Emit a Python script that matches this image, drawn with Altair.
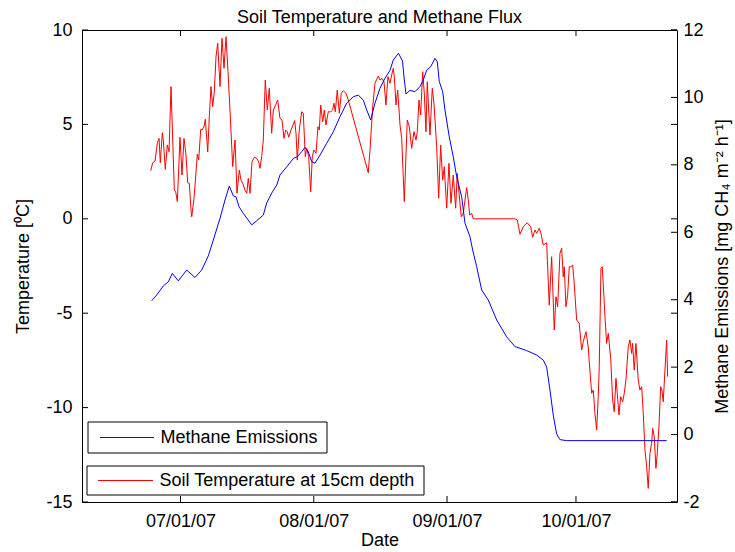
import altair as alt
import pandas as pd

# ---- data (days since 2007-07-01) ----
temp_day = [-6.93,-6.47,-5.93,-5.40,-5.00,-4.70,-4.23,-4.00,-3.54,-3.07,
            -2.67,-2.21,-1.44,-1.12,-0.74,-0.12,0.35,0.81,1.28,1.67,
            2.05,2.44,2.61,3.14,3.44,3.91,4.23,4.70,5.00,5.47,
            5.77,6.33,6.70,7.09,7.49,7.86,8.26,8.65,9.19,9.65,
            10.12,10.58,11.05,11.51,12.14,12.68,13.14,13.68,14.07,14.47,
            15.00,15.40,15.77,16.17,16.63,17.17,17.72,18.19,18.49,18.89,
            19.26,19.72,20.19,20.65,21.21,21.59,22.61,23.14,23.61,24.07,
            24.47,24.84,25.17,25.70,26.56,26.87,27.17,27.63,28.19,28.56,
            29.03,29.35,29.82,30.28,30.66,31.05,31.52,31.98,32.29,32.61,
            33.08,33.45,33.84,34.38,34.94,35.40,35.70,36.01,36.47,36.94,
            37.40,37.87,38.50,39.03,43.68,44.08,44.71,45.24,46.01,46.40,
            46.87,47.33,47.80,48.26,48.73,49.13,49.50,49.73,50.13,50.52,50.89,
            51.06,51.45,52.06,52.75,53.22,53.78,54.31,54.78,55.08,
            55.48,55.87,56.34,56.71,57.10,57.41,58.03,58.57,58.96,59.59,
            60.06,60.52,60.99,61.36,61.92,62.45,62.92,63.45,64.01,64.38,
            64.94,65.31,65.78,66.18,66.57,66.94,67.27,67.73,68.11,77.80,
            78.34,78.97,79.74,80.67,81.46,81.92,82.46,82.85,83.46,83.85,
            84.39,85.18,85.78,86.34,86.95,87.34,87.74,88.27,88.67,89.04,
            89.27,89.67,90.06,90.44,90.83,91.23,91.53,92.16,92.76,93.32,
            93.69,94.32,94.85,95.09,95.65,96.02,96.41,96.81,97.18,97.41,
            97.81,98.11,98.51,98.74,99.13,99.51,100.07,100.53,100.90,101.30,
            101.60,102.00,102.39,102.86,103.23,103.62,104.16,104.56,104.95,105.18,
            105.55,105.95,106.48,106.88,107.28,107.65,108.05,108.44,108.81,109.21,
            109.60,109.84,110.21,110.60,110.91,111.30,111.70,112.00,112.30,112.70,113.09,113.32]
temp_c = [2.55,2.97,3.06,4.00,4.26,2.97,4.56,4.17,2.62,3.91,
          3.55,7.00,1.52,1.43,0.91,4.32,2.32,4.26,3.38,1.91,
          1.88,0.47,0.11,1.09,1.96,3.43,3.11,4.74,4.70,4.88,
          5.27,3.55,5.41,7.00,5.94,6.73,8.59,9.30,7.00,9.56,
          7.97,9.65,7.79,5.76,2.76,4.17,1.35,2.58,2.05,1.88,
          1.52,1.35,2.14,1.35,3.02,3.26,3.20,3.02,2.67,3.29,
          4.17,7.35,5.76,6.91,4.53,5.76,6.29,5.32,5.23,4.26,
          4.70,4.61,4.32,4.70,5.20,4.53,3.11,4.70,5.67,5.59,
          3.29,3.73,3.29,1.43,3.29,3.64,3.47,4.88,4.70,6.03,
          5.14,5.76,4.97,5.67,5.67,5.76,6.12,5.67,6.82,5.59,
          6.65,6.78,6.65,6.29,2.44,3.64,5.94,7.18,7.56,7.35,
          7.44,7.26,6.03,7.53,7.18,7.62,7.97,7.53,6.03,6.82,5.59,
          4.97,4.26,0.91,5.23,4.88,3.73,4.61,4.17,4.61,
          6.29,5.50,7.79,6.65,4.61,7.26,4.44,6.91,6.12,3.82,
          1.09,3.91,2.05,2.76,0.56,2.94,0.82,2.32,0.56,2.41,
          1.00,0.11,0.29,1.00,1.65,1.00,0.20,0.29,0.0,0.0,
          -0.06,-0.82,-0.42,-0.21,-0.42,-0.98,-0.59,-0.77,-0.50,-0.77,
          -1.39,-1.27,-4.57,-2.01,-5.89,-4.13,-4.66,-1.83,-1.56,-3.07,
          -2.54,-4.66,-4.04,-2.54,-2.54,-2.45,-3.24,-5.36,-5.54,-6.95,
          -6.51,-5.98,-6.78,-7.57,-9.24,-9.07,-10.30,-11.19,-9.42,-7.84,
          -2.62,-2.54,-4.13,-5.19,-6.60,-6.07,-7.39,-9.60,-10.22,-8.45,
          -9.24,-10.39,-9.42,-9.69,-9.24,-8.54,-6.78,-6.42,-7.13,-6.60,
          -8.01,-6.60,-8.54,-9.07,-8.89,-10.30,-12.25,-13.13,-14.28,-12.42,
          -11.89,-11.10,-11.54,-13.22,-12.42,-11.01,-8.89,-9.07,-9.69,-8.01,-6.42,-8.36]

meth_day = [-6.70,-5.54,-4.00,-2.84,-1.91,-0.51,1.44,3.37,4.93,6.47,
            7.63,9.19,10.35,11.35,12.28,12.91,13.61,14.61,16.56,17.72,
            19.26,20.05,21.21,22.38,23.14,24.70,26.24,27.17,28.19,28.96,
            29.73,30.52,31.28,32.45,34.01,35.54,37.10,38.66,40.19,41.36,
            42.52,43.31,44.24,45.24,46.40,47.57,48.73,49.50,50.71,51.64,
            51.99,52.45,53.38,54.55,55.71,56.48,57.27,58.20,59.20,59.73,
            60.20,60.99,61.52,62.52,63.45,64.24,65.41,66.18,67.34,67.97,
            68.90,70.06,71.60,73.55,75.87,77.80,80.53,82.85,84.39,85.18,
            85.95,86.71,87.50,88.27,89.83,113.09]
meth_flux = [3.97,4.14,4.41,4.53,4.78,4.56,4.88,4.66,4.88,5.30,
             5.77,6.41,6.96,7.37,7.08,7.05,6.76,6.56,6.22,6.34,
             6.51,6.87,7.16,7.40,7.70,7.94,8.19,8.24,8.39,8.52,
             8.39,8.09,8.05,8.29,8.64,8.98,9.43,9.83,10.02,10.07,
             9.92,9.63,9.33,9.83,10.27,10.57,10.80,11.11,11.31,11.08,
             10.61,10.10,10.21,10.17,10.32,10.52,10.81,10.91,11.16,11.06,
             10.47,10.17,9.63,8.83,8.24,7.65,7.05,6.27,5.87,5.47,
             4.98,4.29,3.99,3.40,2.90,2.61,2.49,2.36,2.21,2.00,
             1.32,0.58,0.02,-0.15,-0.18,-0.18]

temp_ticks = [-15, -10, -5, 0, 5, 10]
meth_ticks = [-2, 0, 2, 4, 6, 8, 10, 12]
date_ticks = ["2007-07-01", "2007-08-01", "2007-09-01", "2007-10-01"]

legend_labels = ["Methane Emissions", "Soil Temperature at 15cm depth"]

# ---- styling ----
FONT = "Liberation Sans"
FS = 18
W, H = 595, 472
RED, BLUE = "#ff0000", "#0000ff"
TICK = 6

base = pd.Timestamp("2007-07-01")
temp_df = pd.DataFrame({"date": base + pd.to_timedelta(temp_day, unit="D"), "temp": temp_c})
meth_df = pd.DataFrame({"date": base + pd.to_timedelta(meth_day, unit="D"), "meth": meth_flux})
ttick_df = pd.DataFrame({"temp": temp_ticks})
mtick_df = pd.DataFrame({"meth": meth_ticks})
dtick_df = pd.DataFrame({"date": pd.to_datetime(date_ticks)})

x_scale = alt.Scale(domain=[alt.DateTime(year=2007, month=6, date=8, hours=2),
                            alt.DateTime(year=2007, month=10, date=24, hours=12)])
t_scale = alt.Scale(domain=[-15, 10], nice=False, zero=False)
m_scale = alt.Scale(domain=[-2, 12], nice=False, zero=False)

x_axis = alt.Axis(values=[alt.DateTime(year=2007, month=m, date=1) for m in (7, 8, 9, 10)],
                  format="%m/%d/%y", ticks=False, domain=False, grid=False,
                  labelPadding=10, labelFlush=False, title="Date",
                  titleX=W / 2, titleY=38, titleAlign="center", titleBaseline="middle")
t_axis = alt.Axis(orient="left", values=temp_ticks, ticks=False, domain=False, grid=False,
                  labelPadding=10, labelExpr="'' + datum.value", title="Temperature [⁰C]",
                  titleX=-59, titleY=H / 2, titleAngle=270, titleAlign="center",
                  titleBaseline="middle")
m_axis = alt.Axis(orient="right", values=meth_ticks, ticks=False, domain=False, grid=False,
                  labelPadding=6, labelExpr="'' + datum.value",
                  title="Methane Emissions [mg CH₄ m⁻² h⁻¹]",
                  titleX=45, titleY=H / 2, titleAngle=270, titleAlign="center",
                  titleBaseline="middle")

def xenc():
    return alt.X("date:T", scale=x_scale, axis=x_axis)

def tenc():
    return alt.Y("temp:Q", scale=t_scale, axis=t_axis)

def menc():
    return alt.Y("meth:Q", scale=m_scale, axis=m_axis)

temp_line = alt.Chart(temp_df).mark_line(color=RED, strokeWidth=1).encode(x=xenc(), y=tenc())
t_tick_l = alt.Chart(ttick_df).mark_rule(color="black", strokeWidth=1).encode(
    x=alt.value(0), x2=alt.value(TICK), y=tenc())
t_tick_r = alt.Chart(ttick_df).mark_rule(color="black", strokeWidth=1).encode(
    x=alt.value(W - TICK), x2=alt.value(W), y=tenc())
x_tick_b = alt.Chart(dtick_df).mark_rule(color="black", strokeWidth=1).encode(
    x=xenc(), y=alt.value(H - TICK), y2=alt.value(H))
x_tick_t = alt.Chart(dtick_df).mark_rule(color="black", strokeWidth=1).encode(
    x=xenc(), y=alt.value(0), y2=alt.value(TICK))

meth_line = alt.Chart(meth_df).mark_line(color=BLUE, strokeWidth=1).encode(x=xenc(), y=menc())
m_tick_r = alt.Chart(mtick_df).mark_rule(color="black", strokeWidth=1).encode(
    x=alt.value(W - TICK), x2=alt.value(W), y=menc())

temp_group = alt.layer(temp_line, t_tick_l, t_tick_r, x_tick_b, x_tick_t)
meth_group = alt.layer(meth_line, m_tick_r)

# ---- manual legend boxes (MATLAB plotyy style: two separate boxes) ----
legend_style = [
    dict(box=(6, 245, 392, 423), line=(18, 72), ly=407.5, tx=78.5, color=BLUE),
    dict(box=(5, 342, 436, 465), line=(16, 71), ly=450.5, tx=77.5, color=RED),
]
legend_layers = []
for lab, st in zip(legend_labels, legend_style):
    d = pd.DataFrame({"label": [lab]})
    x0, x1, y0, y1 = st["box"]
    legend_layers.append(alt.Chart(d).mark_rect(fill="white", stroke="black", strokeWidth=1).encode(
        x=alt.value(x0), x2=alt.value(x1), y=alt.value(y0), y2=alt.value(y1)))
    legend_layers.append(alt.Chart(d).mark_rule(color=st["color"], strokeWidth=1).encode(
        x=alt.value(st["line"][0]), x2=alt.value(st["line"][1]), y=alt.value(st["ly"])))
    legend_layers.append(alt.Chart(d).mark_text(align="left", baseline="middle", font=FONT,
                                                fontSize=FS, color="black").encode(
        x=alt.value(st["tx"]), y=alt.value(st["ly"]), text="label:N"))

chart = alt.layer(temp_group, meth_group, *legend_layers).resolve_scale(
    y="independent"
).properties(
    width=W, height=H,
    title=alt.TitleParams("Soil Temperature and Methane Flux", font=FONT, fontSize=FS,
                          fontWeight="normal", color="black", anchor="middle", offset=-6),
    padding={"left": 82, "top": 30, "right": 58, "bottom": 50},
    autosize=alt.AutoSizeParams(type="none"),
    background="white",
).configure_view(
    stroke="black", strokeWidth=1
).configure_axis(
    labelFont=FONT, labelFontSize=FS, labelColor="black",
    titleFont=FONT, titleFontSize=FS, titleColor="black", titleFontWeight="normal",
)

chart.save("out.html", embed_options={"renderer": "svg", "actions": False})
